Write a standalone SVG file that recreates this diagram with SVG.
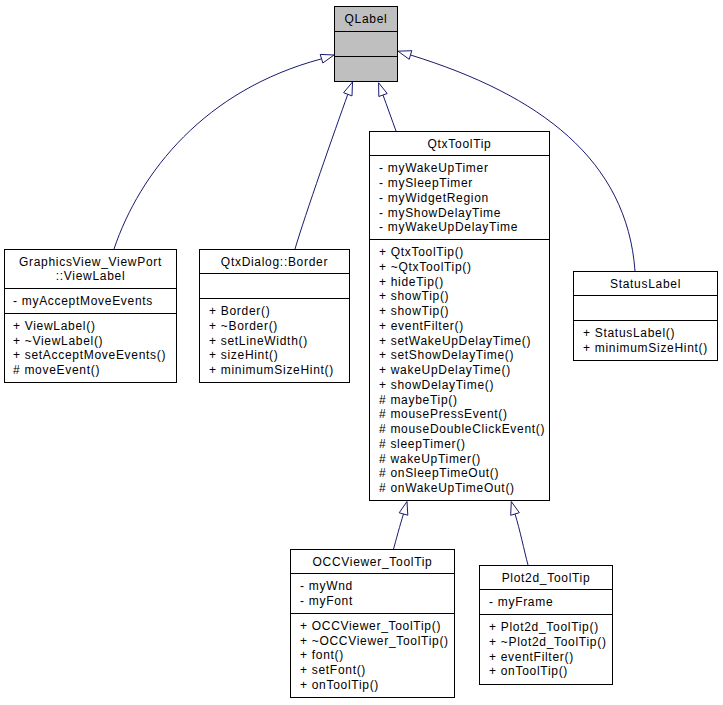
<svg xmlns="http://www.w3.org/2000/svg" width="723" height="705" viewBox="0 0 723 705">
<style>
  .box { fill: #ffffff; stroke: #000000; stroke-width: 1; }
  .base { fill: #bfbfbf; stroke: #000000; stroke-width: 1; }
  .div { stroke: #000000; stroke-width: 1; }
  text { font-family: "Liberation Sans", Arial, sans-serif; font-size: 12px; letter-spacing: 0.7px; fill: #000000; }
  .c { text-anchor: middle; }
  .edge { fill: none; stroke: #191970; stroke-width: 1; }
  .head { fill: #ffffff; stroke: #191970; stroke-width: 1; }
</style>
<rect width="723" height="705" fill="#ffffff"/>

<g id="connectors">
  <path class="edge" d="M114,249 C140,172 205,90 321,59"/>
  <polygon class="head" points="334,55 322.8,63 320.2,54.4"/>
  <path class="edge" d="M295,249 C305,215 335,130 347.8,94.3"/>
  <polygon class="head" points="352.5,82 352,95.9 343.6,92.7"/>
  <path class="edge" d="M396,131 C392,120 387,106 383,95"/>
  <polygon class="head" points="378.6,82.8 387.2,93.5 378.8,96.5"/>
  <path class="edge" d="M635,271 C627,160 540,95 410.5,55"/>
  <polygon class="head" points="398,51.2 411.8,50.7 409.2,59.3"/>
  <path class="edge" d="M393.3,550 C396,540 400,525 403.5,514"/>
  <polygon class="head" points="407,501.5 407.8,515.2 399.2,512.8"/>
  <path class="edge" d="M528,565 C524,550 520,530 515,514"/>
  <polygon class="head" points="511.3,501.5 519.3,512.7 510.7,515.3"/>
</g>

<g id="QLabel">
  <rect class="base" x="334.5" y="6.5" width="63" height="75"/>
  <line class="div" x1="334.5" y1="31.5" x2="397.5" y2="31.5"/>
  <line class="div" x1="334.5" y1="56.5" x2="397.5" y2="56.5"/>
  <text class="c" x="366" y="23">QLabel</text>
</g>

<g id="GraphicsView_ViewPort_ViewLabel">
  <rect class="box" x="4.5" y="249.5" width="172" height="133"/>
  <line class="div" x1="4.5" y1="288.5" x2="176.5" y2="288.5"/>
  <line class="div" x1="4.5" y1="313.5" x2="176.5" y2="313.5"/>
  <text class="c" x="90.5" y="265.7">GraphicsView_ViewPort</text>
  <text class="c" x="90.5" y="280.4">::ViewLabel</text>
  <text x="13" y="305.2">- myAcceptMoveEvents</text>
  <text x="13" y="329.9">+ ViewLabel()</text>
  <text x="13" y="344.6">+ ~ViewLabel()</text>
  <text x="13" y="359.4">+ setAcceptMoveEvents()</text>
  <text x="13" y="374.1"># moveEvent()</text>
</g>

<g id="QtxDialog_Border">
  <rect class="box" x="199.5" y="249.5" width="150" height="133"/>
  <line class="div" x1="199.5" y1="273.5" x2="349.5" y2="273.5"/>
  <line class="div" x1="199.5" y1="298.5" x2="349.5" y2="298.5"/>
  <text class="c" x="274.5" y="265.7">QtxDialog::Border</text>
  <text x="209" y="315.2">+ Border()</text>
  <text x="209" y="329.9">+ ~Border()</text>
  <text x="209" y="344.6">+ setLineWidth()</text>
  <text x="209" y="359.4">+ sizeHint()</text>
  <text x="209" y="374.1">+ minimumSizeHint()</text>
</g>

<g id="QtxToolTip">
  <rect class="box" x="369.5" y="131.5" width="180" height="369"/>
  <line class="div" x1="369.5" y1="155.5" x2="549.5" y2="155.5"/>
  <line class="div" x1="369.5" y1="239.5" x2="549.5" y2="239.5"/>
  <text class="c" x="459.5" y="147.7">QtxToolTip</text>
  <text x="379" y="172.4">- myWakeUpTimer</text>
  <text x="379" y="187.1">- mySleepTimer</text>
  <text x="379" y="201.9">- myWidgetRegion</text>
  <text x="379" y="216.6">- myShowDelayTime</text>
  <text x="379" y="231.4">- myWakeUpDelayTime</text>
  <text x="379" y="256.2">+ QtxToolTip()</text>
  <text x="379" y="270.9">+ ~QtxToolTip()</text>
  <text x="379" y="285.7">+ hideTip()</text>
  <text x="379" y="300.4">+ showTip()</text>
  <text x="379" y="315.2">+ showTip()</text>
  <text x="379" y="329.9">+ eventFilter()</text>
  <text x="379" y="344.7">+ setWakeUpDelayTime()</text>
  <text x="379" y="359.4">+ setShowDelayTime()</text>
  <text x="379" y="374.2">+ wakeUpDelayTime()</text>
  <text x="379" y="388.9">+ showDelayTime()</text>
  <text x="379" y="403.7"># maybeTip()</text>
  <text x="379" y="418.4"># mousePressEvent()</text>
  <text x="379" y="433.2"># mouseDoubleClickEvent()</text>
  <text x="379" y="447.9"># sleepTimer()</text>
  <text x="379" y="462.7"># wakeUpTimer()</text>
  <text x="379" y="477.4"># onSleepTimeOut()</text>
  <text x="379" y="492.2"># onWakeUpTimeOut()</text>
</g>

<g id="StatusLabel">
  <rect class="box" x="573.5" y="271.5" width="144" height="89"/>
  <line class="div" x1="573.5" y1="295.5" x2="717.5" y2="295.5"/>
  <line class="div" x1="573.5" y1="320.5" x2="717.5" y2="320.5"/>
  <text class="c" x="645.5" y="287.7">StatusLabel</text>
  <text x="583" y="337.2">+ StatusLabel()</text>
  <text x="583" y="351.9">+ minimumSizeHint()</text>
</g>

<g id="OCCViewer_ToolTip">
  <rect class="box" x="290.5" y="549.5" width="164" height="148"/>
  <line class="div" x1="290.5" y1="573.5" x2="454.5" y2="573.5"/>
  <line class="div" x1="290.5" y1="613.5" x2="454.5" y2="613.5"/>
  <text class="c" x="372.5" y="565.7">OCCViewer_ToolTip</text>
  <text x="300" y="590.4">- myWnd</text>
  <text x="300" y="605.2">- myFont</text>
  <text x="300" y="629.9">+ OCCViewer_ToolTip()</text>
  <text x="300" y="644.7">+ ~OCCViewer_ToolTip()</text>
  <text x="300" y="659.4">+ font()</text>
  <text x="300" y="674.2">+ setFont()</text>
  <text x="300" y="688.9">+ onToolTip()</text>
</g>

<g id="Plot2d_ToolTip">
  <rect class="box" x="479.5" y="565.5" width="133" height="119"/>
  <line class="div" x1="479.5" y1="589.5" x2="612.5" y2="589.5"/>
  <line class="div" x1="479.5" y1="614.5" x2="612.5" y2="614.5"/>
  <text class="c" x="546" y="581.7">Plot2d_ToolTip</text>
  <text x="489" y="606.4">- myFrame</text>
  <text x="489" y="631.2">+ Plot2d_ToolTip()</text>
  <text x="489" y="645.9">+ ~Plot2d_ToolTip()</text>
  <text x="489" y="660.7">+ eventFilter()</text>
  <text x="489" y="675.4">+ onToolTip()</text>
</g>
</svg>
